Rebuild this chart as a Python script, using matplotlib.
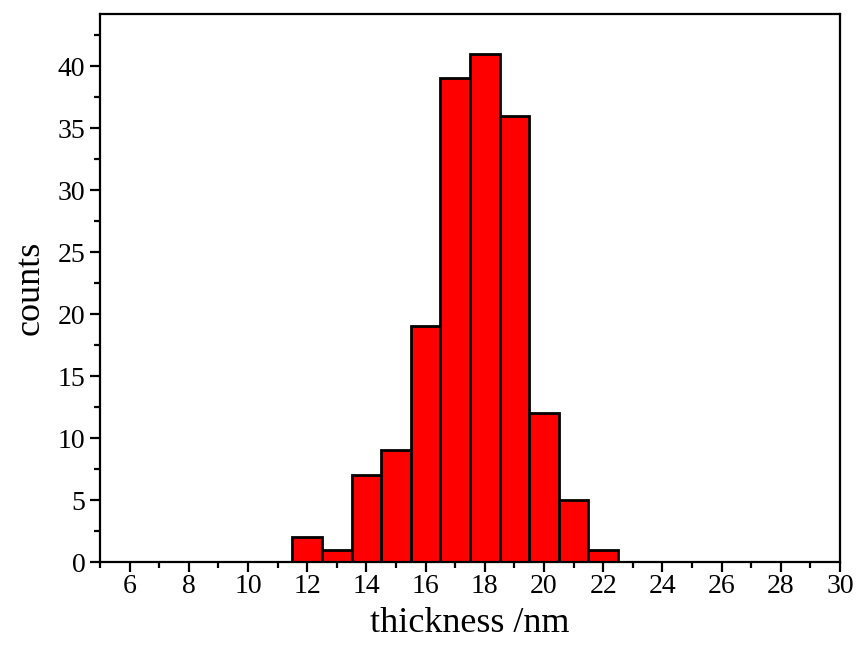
import matplotlib.pyplot as plt
from matplotlib.ticker import MultipleLocator

# histogram of thickness (bin centres, width 1 nm)
centers = [12, 13, 14, 15, 16, 17, 18, 19, 20, 21, 22]
counts = [2, 1, 7, 9, 19, 39, 41, 36, 12, 5, 1]
xticks = list(range(6, 31, 2))

plt.rcParams["font.family"] = ["Liberation Serif", "DejaVu Serif"]

fig = plt.figure(figsize=(8.59, 6.63), dpi=100)
ax = fig.add_axes([0.1164, 0.1523, 0.8615, 0.8266])

ax.bar(centers, counts, width=1.0, color="#ff0000", edgecolor="black", linewidth=2.0, zorder=2)

ax.set_xlim(5, 30)
ax.set_ylim(0, 44.2)
ax.set_xticks(xticks)
ax.xaxis.set_minor_locator(MultipleLocator(1))
ax.yaxis.set_major_locator(MultipleLocator(5))
ax.yaxis.set_minor_locator(MultipleLocator(2.5))

ax.tick_params(axis="both", which="major", direction="out", length=7.5, width=1.6, labelsize=20)
ax.tick_params(axis="x", which="major", pad=1)
ax.tick_params(axis="y", which="major", pad=3)
ax.tick_params(axis="both", which="minor", direction="out", length=4.5, width=1.6)
for s in ax.spines.values():
    s.set_linewidth(1.6)

ax.set_xlabel("thickness /nm", fontsize=26, labelpad=6)
ax.set_ylabel("counts", fontsize=26, labelpad=8)

fig.savefig("out.png", dpi=100)
